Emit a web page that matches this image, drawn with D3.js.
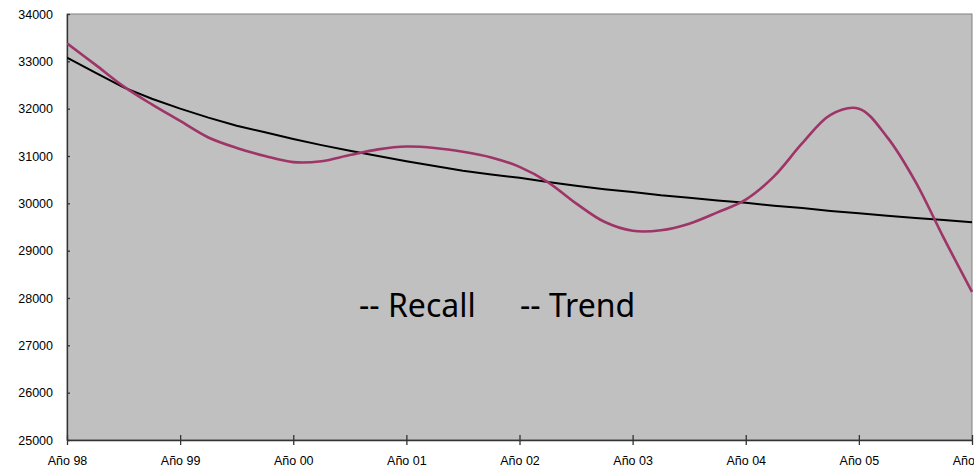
<!DOCTYPE html>
<html lang="es">
    <head>
        <meta charset="utf-8">
        <title>Recall vs Trend</title>
        <script src="https://cdn.jsdelivr.net/npm/d3@7"></script>
        <style>
            body { margin: 0; background: #fff; }
        </style>
    </head>
    <body>
        <script>

            // quarterly readings, Año 98 .. Año 06
            var recall = [33380, 32930, 32470, 32090, 31740, 31390, 31170, 31000,
                          30870, 30890, 31020, 31140, 31200, 31170, 31090, 30970,
                          30770, 30450, 30000, 29610, 29420, 29430, 29570, 29810,
                          30080, 30570, 31270, 31870, 32000, 31400, 30460, 29270,
                          28130];
            var trend  = [33080, 32760, 32450, 32210, 32000, 31810, 31640, 31500,
                          31360, 31230, 31110, 31000, 30890, 30790, 30690, 30610,
                          30540, 30450, 30370, 30300, 30240, 30170, 30120, 30060,
                          30010, 29950, 29900, 29840, 29790, 29740, 29690, 29650,
                          29600];
            var years  = ["Año 98", "Año 99", "Año 00", "Año 01", "Año 02",
                          "Año 03", "Año 04", "Año 05", "Año 06"];
            var yTicks = [25000, 26000, 27000, 28000, 29000, 30000, 31000, 32000, 33000, 34000];

            var width = 974, height = 468;
            // plot area edges ("top" is taken by window.top, so prefix them)
            var pLeft = 67, pRight = 972, pTop = 14, pBottom = 440;

            var svg = d3.select("body").append("svg")
                .attr("width", width)
                .attr("height", height)

            var x = d3.scaleLinear().domain([0, recall.length - 1]).range([pLeft, pRight]);
            var y = d3.scaleLinear().domain([25000, 34000]).range([pBottom, pTop]);

            svg.append("rect")
                .attr("x", pLeft).attr("y", pTop)
                .attr("width", pRight - pLeft).attr("height", pBottom - pTop)
                .style("fill", "#c0c0c0")
                .style("stroke", "#808080")
                .style("stroke-width", 1)

            // y axis
            var yAxis = d3.axisLeft(y).tickValues(yTicks).tickFormat(d3.format("d"))
                .tickSizeInner(5).tickSizeOuter(0).tickPadding(9);
            var gy = svg.append("g").attr("transform", "translate(" + pLeft + ",0)").call(yAxis);
            gy.selectAll(".tick line").attr("x2", 3);

            // x axis
            var xAxis = d3.axisBottom(x)
                .tickValues(years.map(function(d, i) { return i * 4; }))
                .tickFormat(function(d) { return years[d / 4]; })
                .tickSizeInner(5).tickSizeOuter(0).tickPadding(11);
            var gx = svg.append("g").attr("transform", "translate(0," + pBottom + ")").call(xAxis);
            gx.selectAll(".tick line").attr("y1", -5);

            svg.selectAll(".domain, .tick line").style("stroke", "#333").style("stroke-width", 1.3);
            svg.selectAll(".tick text")
                .style("font-family", "'Liberation Sans', Arial, sans-serif")
                .style("font-size", "12.5px")
                .style("fill", "#000");

            svg.append("clipPath").attr("id", "plot")
                .append("rect").attr("x", pLeft).attr("y", pTop)
                .attr("width", pRight - pLeft + 2).attr("height", pBottom - pTop);

            var trendLine = d3.line()
                .x(function(d, i) { return x(i); })
                .y(function(d) { return y(d); })

            var recallLine = d3.line()
                .x(function(d, i) { return x(i); })
                .y(function(d) { return y(d); })
                .curve(d3.curveCatmullRom)

            svg.append("path")
                .attr("d", trendLine(trend))
                .attr("clip-path", "url(#plot)")
                .style("fill", "none")
                .style("stroke", "#000")
                .style("stroke-width", 2)

            svg.append("path")
                .attr("d", recallLine(recall))
                .attr("clip-path", "url(#plot)")
                .style("fill", "none")
                .style("stroke", "#9e3468")
                .style("stroke-width", 2.6)

            // legend-like labels in the plot
            var legend = [{label: "-- Recall", x: 359}, {label: "-- Trend", x: 520}];
            svg.selectAll(".lbl").data(legend).enter()
                .append("text")
                .attr("class", "lbl")
                .attr("x", function(d) { return d.x; })
                .attr("y", 317)
                .text(function(d) { return d.label; })
                .style("font-family", "'Noto Sans', 'Open Sans', sans-serif")
                .style("font-size", "32px")
                .style("fill", "#000")

        </script>
    </body>
</html>
